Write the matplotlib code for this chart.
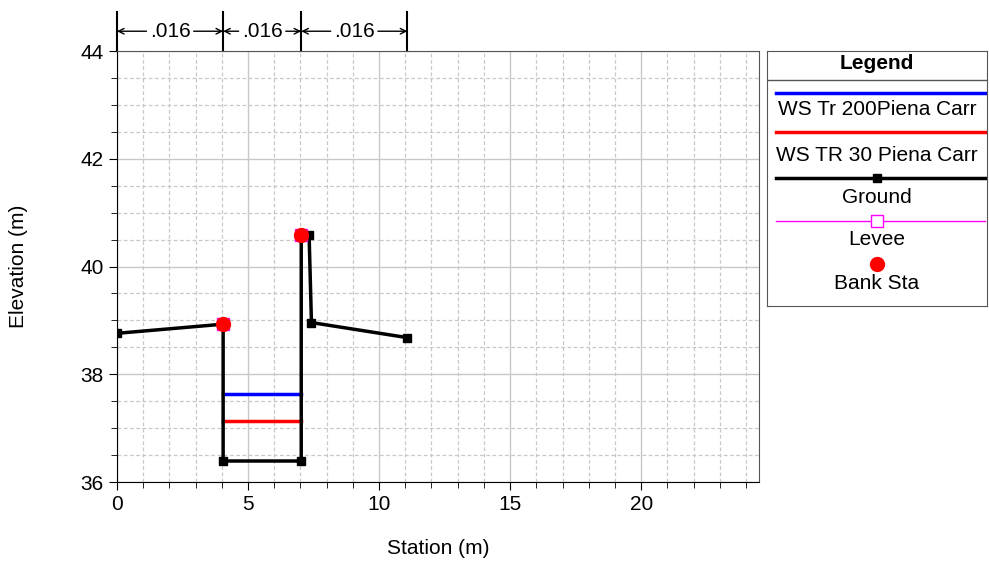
import matplotlib
matplotlib.use('Agg')
import matplotlib.pyplot as plt
from matplotlib.ticker import MultipleLocator
import matplotlib.transforms as mtransforms

plt.rcParams['font.family'] = ['Liberation Sans', 'DejaVu Sans']

# data
ground_x = [0.0, 4.05, 4.05, 7.03, 7.03, 7.33, 7.42, 11.08]
ground_y = [38.76, 38.93, 36.39, 36.39, 40.59, 40.59, 38.96, 38.68]
ws200_x = [4.05, 7.03]
ws200_y = [37.64, 37.64]
ws30_x = [4.05, 7.03]
ws30_y = [37.14, 37.14]
bank_x = [4.05, 7.03]
bank_y = [38.93, 40.59]
levee_x = [4.05, 7.03]
levee_y = [38.93, 40.59]
n_breaks = [0.0, 4.05, 7.03, 11.08]
n_values = ['.016', '.016', '.016']
legend_labels = ['WS Tr 200Piena Carr', 'WS TR 30 Piena Carr', 'Ground', 'Levee', 'Bank Sta']

fs = 15

fig = plt.figure(figsize=(9.89, 5.61), dpi=100)
ax = fig.add_axes([0.1183, 0.1408, 0.6492, 0.7682])

ax.plot(ws200_x, ws200_y, color='blue', lw=2.5, zorder=3)
ax.plot(ws30_x, ws30_y, color='red', lw=2.5, zorder=3)
ax.plot(ground_x, ground_y, color='black', lw=2.5, marker='s', ms=6, zorder=4)
ax.plot(levee_x, levee_y, ls='none', marker='s', ms=9, mfc='none', mec='magenta', mew=1, zorder=5)
ax.plot(bank_x, bank_y, ls='none', marker='o', ms=10, color='red', zorder=6)

ax.set_xlim(0, 24.5)
ax.set_ylim(36, 44)
ax.xaxis.set_major_locator(MultipleLocator(5))
ax.xaxis.set_minor_locator(MultipleLocator(1))
ax.yaxis.set_major_locator(MultipleLocator(2))
ax.yaxis.set_minor_locator(MultipleLocator(0.5))
ax.grid(which='major', color='#c8c8c8', lw=1, ls='-')
ax.grid(which='minor', color='#c8c8c8', lw=0.9, ls=(0, (3, 2)))
ax.set_axisbelow(True)
ax.tick_params(which='both', direction='out', labelsize=fs)
ax.tick_params(which='major', length=6)
ax.tick_params(which='minor', length=4)
for side in ['top', 'right']:
    ax.spines[side].set_color('#555555')
ax.set_xlabel('Station (m)', fontsize=fs, labelpad=18)
ax.set_ylabel('Elevation (m)', fontsize=fs, labelpad=38)

# Manning's n annotation above the plot
trans = mtransforms.blended_transform_factory(ax.transData, ax.transAxes)
for xb in n_breaks:
    ax.plot([xb, xb], [1.0, 1.09], transform=trans, color='black', lw=1.5, clip_on=False)
for i, nv in enumerate(n_values):
    x0, x1 = n_breaks[i], n_breaks[i + 1]
    xm = (x0 + x1) / 2
    ax.text(xm, 1.046, nv, transform=trans, ha='center', va='center', fontsize=fs)
    half = 0.9
    ax.annotate('', xy=(x0, 1.046), xytext=(xm - half, 1.046), xycoords=trans, textcoords=trans,
                arrowprops=dict(arrowstyle='->', lw=1, shrinkA=0, shrinkB=0))
    ax.annotate('', xy=(x1, 1.046), xytext=(xm + half, 1.046), xycoords=trans, textcoords=trans,
                arrowprops=dict(arrowstyle='->', lw=1, shrinkA=0, shrinkB=0))

# legend box
lax = fig.add_axes([0.7755, 0.4545, 0.2225, 0.4545])
lax.set_xlim(0, 1)
lax.set_ylim(0, 1)
lax.set_xticks([])
lax.set_yticks([])
for s in lax.spines.values():
    s.set_color('#555555')
lax.text(0.5, 0.95, 'Legend', ha='center', va='center', fontsize=fs, fontweight='bold')
lax.axhline(0.886, color='#555555', lw=1)
lx = [0.04, 0.99]
lab_y = [0.769, 0.592, 0.424, 0.259, 0.09]
lax.plot(lx, [0.835, 0.835], color='blue', lw=2.5)
lax.plot(lx, [0.682, 0.682], color='red', lw=2.5)
lax.plot(lx, [0.502, 0.502], color='black', lw=2.5)
lax.plot([0.5], [0.502], ls='none', marker='s', ms=6, color='black')
lax.plot(lx, [0.333, 0.333], color='magenta', lw=1)
lax.plot([0.5], [0.333], ls='none', marker='s', ms=9, mfc='white', mec='magenta', mew=1)
lax.plot([0.5], [0.165], ls='none', marker='o', ms=10, color='red')
for lab, ly in zip(legend_labels, lab_y):
    lax.text(0.5, ly, lab, ha='center', va='center', fontsize=fs)

fig.savefig('out.png', dpi=100)
plt.close()
